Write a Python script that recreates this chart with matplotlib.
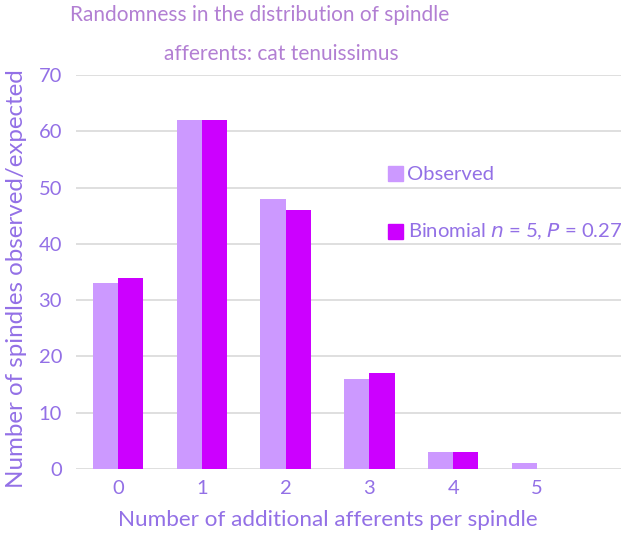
import numpy as np
import matplotlib.pyplot as plt

# data
categories = ['0', '1', '2', '3', '4', '5']
observed = [33, 62, 48, 16, 3, 1]
binomial = [34, 62, 46, 17, 3, 0]
yticks = [0, 10, 20, 30, 40, 50, 60, 70]

lightCol = '#CC99FF'
darkCol = '#CC00FF'
textCol = '#9370E6'
titleCol = '#B27FD3'

plt.rcParams['font.family'] = ['Lato', 'DejaVu Sans']

fig = plt.figure(figsize=(6.25, 5.36), dpi=100)
ax = fig.add_axes([0.1216, 0.125, 0.872, 0.735])

x = np.arange(len(categories))
w = 0.3
ax.bar(x - w/2, observed, w, color=lightCol, zorder=2)
ax.bar(x + w/2, binomial, w, color=darkCol, zorder=2)

ax.set_xlim(-0.5, 6.0)
ax.set_ylim(0, 70)
ax.set_yticks(yticks)
ax.set_xticks(x)
ax.set_xticklabels(categories)
ax.yaxis.grid(True, color='#D9D9D9', linewidth=1.2, zorder=0)
ax.set_axisbelow(True)
for s in ax.spines.values():
    s.set_visible(False)
ax.tick_params(length=0, labelsize=14.5, labelcolor=textCol)
ax.tick_params(axis='x', pad=8)
ax.tick_params(axis='y', pad=10)

fig.text(0.026, 0.481, 'Number of spindles observed/expected', rotation=90,
         ha='center', va='center', fontsize=17.4, color=textCol)
fig.text(0.525, 0.030, 'Number of additional afferents per spindle',
         ha='center', va='center', fontsize=16.2, color=textCol)

# title, two lines with different centres as in the original
fig.text(0.416, 0.972, 'Randomness in the distribution of spindle',
         ha='center', va='center', fontsize=15, color=titleCol)
fig.text(0.450, 0.900, 'afferents: cat tenuissimus',
         ha='center', va='center', fontsize=15, color=titleCol)

# legend built by hand to match placement
for yy, col, lab in [(0.675, lightCol, 'Observed'),
                     (0.567, darkCol, 'Binomial $\\mathit{n}$ = 5, $\\mathit{P}$ = 0.27')]:
    fig.patches.append(plt.Rectangle((0.621, yy - 0.013), 0.024, 0.028,
                                     transform=fig.transFigure, color=col))
    fig.text(0.652, yy, lab, ha='left', va='center', fontsize=14.6, color=textCol)

fig.savefig('out.png', dpi=100)
